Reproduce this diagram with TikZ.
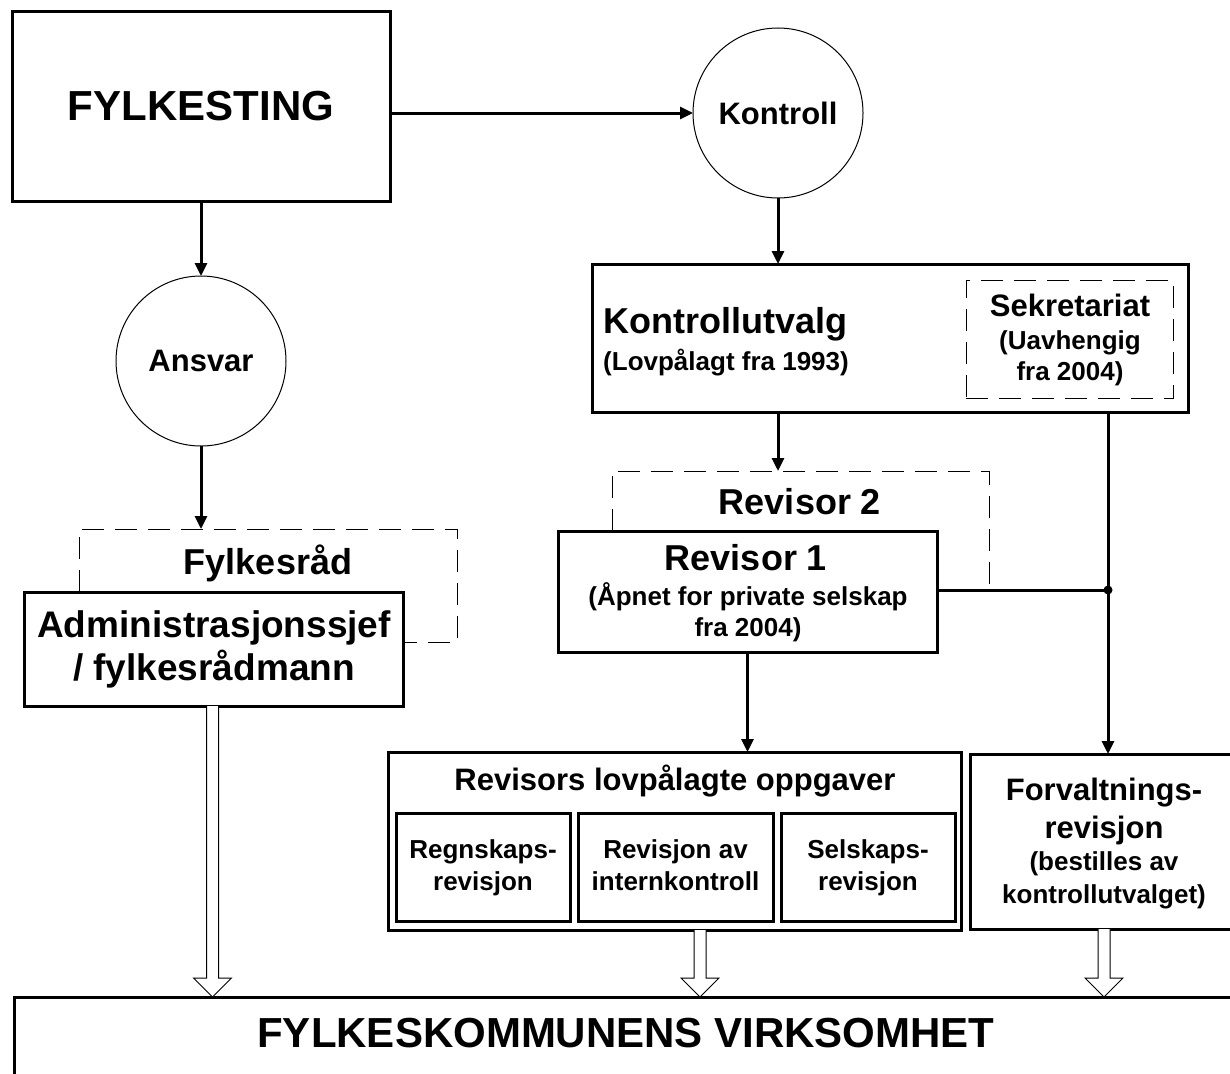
\documentclass[tikz,border=0pt]{standalone}
\usepackage{fontspec}
\setmainfont{Liberation Sans}
\usetikzlibrary{arrows.meta,calc}
\newcommand{\hollowarr}[2]{\draw[hollow] let \p1=(#1), \p2=(#2) in (\x1-6pt,\y1) -- (\x1-6pt,\y2+19pt) -- (\x1-19pt,\y2+19pt) -- (\x1,\y2) -- (\x1+19pt,\y2+19pt) -- (\x1+6pt,\y2+19pt) -- (\x1+6pt,\y1);}
\begin{document}
\begin{tikzpicture}[x=1pt,y=-1pt,
 box/.style={draw,line width=3pt,inner sep=0pt,outer sep=0pt,anchor=north west},
 dbox/.style={draw,line width=1pt,dash pattern=on 22pt off 11pt,inner sep=0pt,outer sep=0pt,anchor=north west},
 dline/.style={line width=1pt,dash pattern=on 22pt off 11pt},
 circ/.style={draw,circle,line width=1pt,minimum size=170pt,inner sep=0pt,outer sep=0pt,font=\fontsize{31}{37}\selectfont\bfseries},
 arr/.style={line width=3pt,-{Triangle[length=13pt,width=12pt]}},
 conn/.style={line width=3pt},
 hollow/.style={draw,fill=white,line width=1pt,line join=miter},
 tA/.style={anchor=base,inner sep=0pt,font=\fontsize{42}{50}\selectfont\bfseries},
 tB/.style={anchor=base,inner sep=0pt,font=\fontsize{36}{43}\selectfont\bfseries},
 tC/.style={anchor=base,inner sep=0pt,font=\fontsize{31}{37}\selectfont\bfseries},
 tD/.style={anchor=base,inner sep=0pt,font=\fontsize{26}{31}\selectfont\bfseries},
]
\useasboundingbox (0,0) rectangle (1230,1073);

% top left
\node[box,minimum width=378pt,minimum height=189pt] (fyl) at (12,12) {};
\node[tA] (fylT) at (201,120) {FYLKESTING};
\node[circ] (kontroll) at (778,113) {Kontroll};
\node[circ] (ansvar) at (201,361) {Ansvar};

% Kontrollutvalg
\node[box,minimum width=596pt,minimum height=148pt] (kutv) at (592,264) {};
\node[tB,anchor=base west] (kutvT) at (603,333) {Kontrollutvalg};
\node[tD,anchor=base west] (kutvS) at (603,370) {(Lovpålagt fra 1993)};
\node[dbox,minimum width=207pt,minimum height=118pt] (sekr) at (966,280) {};
\node[tC] (sekrT) at (1070,316) {Sekretariat};
\node[tD] (sekrS1) at (1070,349) {(Uavhengig};
\node[tD] (sekrS2) at (1070,380) {fra 2004)};

% Revisor 2 (dashed, behind)
\coordinate (r2a) at (612,531);
\coordinate (r2b) at (612,471);
\coordinate (r2c) at (989,471);
\coordinate (r2d) at (989,590);
\draw[dline] (r2a) -- (r2b) -- (r2c) -- (r2d);
\node[tB] (rev2T) at (800,514) {Revisor 2};

% Revisor 1
\node[box,minimum width=379pt,minimum height=121pt] (rev1) at (558,531) {};
\node[tB] (rev1T) at (746,570) {Revisor 1};
\node[tD] (rev1S1) at (748,605) {(Åpnet for private selskap};
\node[tD] (rev1S2) at (748,636) {fra 2004)};

% Revisors lovpålagte oppgaver
\node[box,minimum width=573pt,minimum height=178pt] (revs) at (388,752) {};
\node[tC] (revsT) at (675,790) {Revisors lovpålagte oppgaver};
\node[box,minimum width=174pt,minimum height=108pt] (regn) at (396,813) {};
\node[box,minimum width=195pt,minimum height=108pt] (revav) at (578,813) {};
\node[box,minimum width=174pt,minimum height=108pt] (selsk) at (781,813) {};
\node[tD] (regnT1) at (483,858) {Regnskaps-};
\node[tD] (regnT2) at (483,890) {revisjon};
\node[tD] (revavT1) at (675.5,858) {Revisjon av};
\node[tD] (revavT2) at (675.5,890) {internkontroll};
\node[tD] (selskT1) at (868,858) {Selskaps-};
\node[tD] (selskT2) at (868,890) {revisjon};

% Forvaltningsrevisjon
\node[box,minimum width=290pt,minimum height=175pt] (forv) at (970,754) {};
\node[tC] (forvT1) at (1104,800) {Forvaltnings-};
\node[tC] (forvT2) at (1104,838) {revisjon};
\node[tD] (forvT3) at (1104,870) {(bestilles av};
\node[tD] (forvT4) at (1104,903) {kontrollutvalget)};

% Fylkesråd (dashed) and administration
\coordinate (frA) at (79,592);
\coordinate (frB) at (79,529);
\coordinate (frC) at (457,529);
\coordinate (frD) at (457,642);
\coordinate (frE) at (403,642);
\draw[dline] (frA) -- (frB) -- (frC) -- (frD) -- (frE);
\node[tB] (frT) at (268,574) {Fylkesråd};
\node[box,minimum width=379pt,minimum height=114pt] (adm) at (24,592) {};
\node[tB,font=\fontsize{37}{44}\selectfont\bfseries] (admT1) at (214,637) {Administrasjonssjef};
\node[tB,font=\fontsize{37}{44}\selectfont\bfseries] (admT2) at (214,680) {/ fylkesrådmann};

% bottom
\node[box,minimum width=1250pt,minimum height=120pt] (bot) at (14,997) {};
\node[tA] (botT) at (626,1047) {FYLKESKOMMUNENS VIRKSOMHET};

% connectors
\draw[arr] (fyl.east |- kontroll) -- (kontroll.west);
\draw[arr] (fyl.south -| ansvar) -- (ansvar.north);
\draw[arr] (ansvar.south) -- (ansvar.south |- frB);
\draw[arr] (kontroll.south) -- (kontroll.south |- kutv.north);
\draw[arr] (kutv.south -| kontroll) -- (kontroll |- r2b);
\coordinate (j) at (1108,590);
\draw[conn] (rev1.east |- j) -- (j);
\fill (j) circle[radius=4.5pt];
\draw[arr] (kutv.south -| j) -- (j |- forv.north);
\draw[arr] (rev1.south) -- (rev1.south |- revs.north);

% hollow arrows
\coordinate (h1) at (212.5,706);
\coordinate (h2) at (700,930);
\coordinate (h3) at (1104,929);
\hollowarr{h1}{bot.north}
\hollowarr{h2}{bot.north}
\hollowarr{h3}{bot.north}
\end{tikzpicture}
\end{document}
